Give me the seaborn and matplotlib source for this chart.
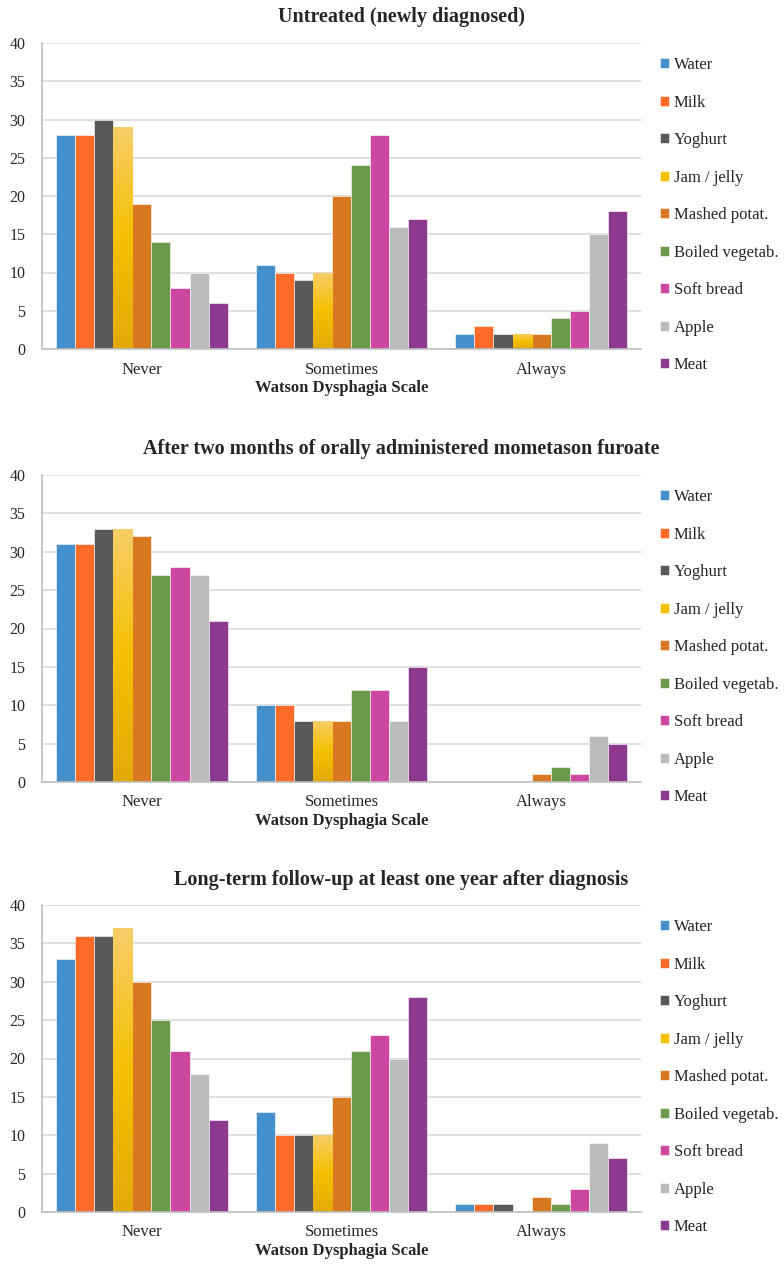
import numpy as np
import pandas as pd
import matplotlib
matplotlib.use('Agg')
import matplotlib.pyplot as plt
from matplotlib.colors import LinearSegmentedColormap
import seaborn as sns

foods = ['Water', 'Milk', 'Yoghurt', 'Jam / jelly', 'Mashed potat.',
         'Boiled vegetab.', 'Soft bread', 'Apple', 'Meat']
scale = ['Never', 'Sometimes', 'Always']
colors = ['#4590CA', '#FF6A28', '#595959', '#F5C000', '#D87820',
          '#6A994A', '#CC48A0', '#BBBBBB', '#8B3A90']

titles = ['Untreated (newly diagnosed)',
          'After two months of orally administered mometason furoate',
          'Long-term follow-up at least one year after diagnosis']

# rows = Never / Sometimes / Always, cols = foods
untreated = [[28, 28, 30, 29, 19, 14, 8, 10, 6],
             [11, 10, 9, 10, 20, 24, 28, 16, 17],
             [2, 3, 2, 2, 2, 4, 5, 15, 18]]
two_months = [[31, 31, 33, 33, 32, 27, 28, 27, 21],
              [10, 10, 8, 8, 8, 12, 12, 8, 15],
              [0, 0, 0, 0, 1, 2, 1, 6, 5]]
long_term = [[33, 36, 36, 37, 30, 25, 21, 18, 12],
             [13, 10, 10, 10, 15, 21, 23, 20, 28],
             [1, 1, 1, 0, 2, 1, 3, 9, 7]]

sns.set_style('white')
plt.rcParams['font.family'] = ['Liberation Serif', 'DejaVu Serif']

W, H = 784, 1270
fig = plt.figure(figsize=(W / 100, H / 100), dpi=100)

jam_cmap = LinearSegmentedColormap.from_list('jam', ['#E3AA08', '#F5C000', '#F8CD68'])

# (top px of 40-line, bottom px of 0-line, title y px)
layout = [(43, 349, 17), (475, 782, 449), (905, 1212, 880)]
ax_left, ax_right = 42, 641

for data, title, (top, bot, ty) in zip([untreated, two_months, long_term], titles, layout):
    df = pd.DataFrame(data, index=scale, columns=foods)
    long = df.reset_index().melt(id_vars='index', var_name='food', value_name='count')
    long = long.rename(columns={'index': 'scale'})

    ax = fig.add_axes([ax_left / W, 1 - bot / H, (ax_right - ax_left) / W, (bot - top) / H])
    sns.barplot(data=long, x='scale', y='count', hue='food', hue_order=foods,
                order=scale, palette=colors, saturation=1, width=0.86,
                edgecolor='white', linewidth=0.4, ax=ax)

    # gradient fill on the jam bars
    for p in ax.containers[3]:
        x0, y0 = p.get_x(), p.get_y()
        w, h = p.get_width(), p.get_height()
        if h <= 0:
            continue
        grad = np.linspace(0, 1, 100).reshape(-1, 1)
        im = ax.imshow(grad, cmap=jam_cmap, aspect='auto', origin='lower',
                       extent=[x0, x0 + w, y0, y0 + h], zorder=p.get_zorder())
        im.set_clip_path(p)
    ax.set_xlim(-0.5, 2.5)
    ax.set_ylim(0, 40)

    ax.set_yticks(range(0, 41, 5))
    ax.yaxis.grid(True, color='#D9D9D9', lw=1.2)
    ax.set_axisbelow(True)
    for s in ['top', 'right']:
        ax.spines[s].set_visible(False)
    for s in ['left', 'bottom']:
        ax.spines[s].set_color('#BFBFBF')
        ax.spines[s].set_linewidth(1.2)
    ax.tick_params(axis='y', length=4, color='#BFBFBF', labelsize=11.5, pad=8)
    ax.tick_params(axis='x', which='major', length=0, labelsize=12, pad=9)
    ax.set_xticks([0.5, 1.5, 2.5], minor=True)
    ax.tick_params(axis='x', which='minor', length=5, color='#BFBFBF')

    ax.set_xlabel('Watson Dysphagia Scale', fontsize=12, fontweight='bold', labelpad=2)
    ax.set_ylabel('')

    handles, labels = ax.get_legend_handles_labels()
    ax.legend(handles, labels, loc='upper left', bbox_to_anchor=(1.02, 0.975),
              frameon=False, fontsize=12, handlelength=0.55, handleheight=0.55,
              handletextpad=0.3, labelspacing=1.29, borderaxespad=0)

    fig.text(401 / W, 1 - ty / H, title, ha='center', va='center',
             fontsize=14.5, fontweight='bold')

fig.savefig('out.png', dpi=100)
